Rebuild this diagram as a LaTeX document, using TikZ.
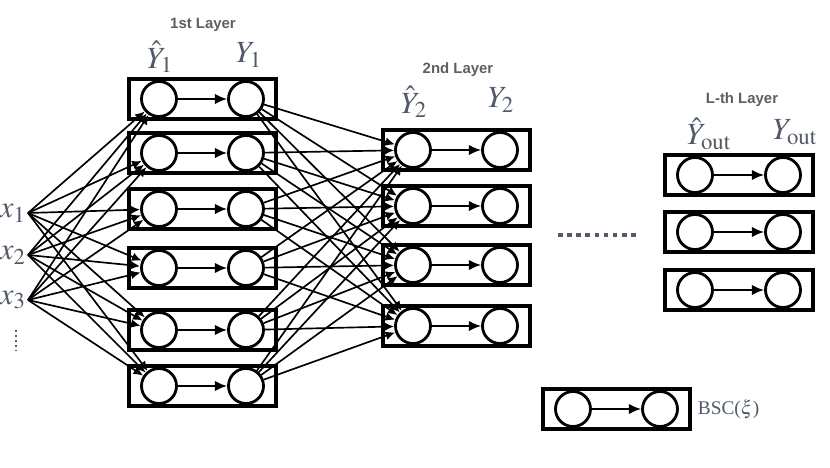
\documentclass[tikz,border=0pt]{standalone}
\usepackage{mathptmx}
\usepackage{fontspec}
\setmainfont{Liberation Serif}
\newfontfamily\titlefont{Liberation Sans}
\usetikzlibrary{arrows.meta,fit}
\definecolor{labgray}{RGB}{80,90,105}
\definecolor{titlegray}{RGB}{95,95,95}
\tikzset{
  unit/.style={circle, draw, line width=1.6pt, minimum size=0.7cm, inner sep=0pt},
  chan/.style={draw, line width=2pt, inner xsep=0.22cm, inner ysep=0.02cm},
  wire/.style={-{Latex[length=5.5pt,width=5pt]}, line width=0.95pt},
  inner/.style={-{Latex[length=7pt,width=6pt]}, line width=1.2pt},
  varlab/.style={text=labgray, font=\fontsize{17.5}{20}\selectfont, inner sep=1pt},
  laytitle/.style={text=titlegray, font=\titlefont\bfseries\fontsize{8.5}{10}\selectfont}
}
\begin{document}
\begin{tikzpicture}
\useasboundingbox (0,0) rectangle (16.6,9.34);
% inputs
\node[varlab, anchor=east] (x1) at (0.56,5.08) {$x_1$};
\node[varlab, anchor=east] (x2) at (0.56,4.24) {$x_2$};
\node[varlab, anchor=east] (x3) at (0.56,3.34) {$x_3$};
\draw[labgray, line width=1.1pt, dash pattern=on 1pt off 1.8pt] (0.32,2.74) -- (0.32,2.28);
% 1st layer
\node[laytitle] (t1) at (4.06,8.84) {1st Layer};
\node[varlab] (la1) at (3.2,8.2) {$\hat{Y}_1$};
\node[varlab] (lb1) at (4.98,8.24) {$Y_1$};
\foreach \i/\y in {1/7.36,2/6.28,3/5.16,4/3.98,5/2.74,6/1.62} {
  \node[unit] (ha\i) at (3.18,\y) {};
  \node[unit] (ya\i) at (4.92,\y) {};
  \draw[inner] (ha\i) -- (ya\i);
  \node[chan, fit=(ha\i)(ya\i)] (ca\i) {};
}
\foreach \i in {1,2,3}
  \foreach \j in {1,...,6}
    \draw[wire] (x\i.east) -- (ha\j);
% 2nd layer
\node[laytitle] (t2) at (9.16,7.94) {2nd Layer};
\node[varlab] (la2) at (8.28,7.3) {$\hat{Y}_2$};
\node[varlab] (lb2) at (10.02,7.34) {$Y_2$};
\foreach \i/\y in {1/6.34,2/5.22,3/4.04,4/2.82} {
  \node[unit] (hb\i) at (8.26,\y) {};
  \node[unit] (yb\i) at (10.0,\y) {};
  \draw[inner] (hb\i) -- (yb\i);
  \node[chan, fit=(hb\i)(yb\i)] (cb\i) {};
}
\foreach \i in {1,...,6}
  \foreach \j in {1,...,4}
    \draw[wire] (ya\i) -- (hb\j);
\draw[labgray, line width=2.4pt, dash pattern=on 2.6pt off 2.6pt] (11.16,4.64) -- (12.8,4.64);
% L-th layer
\node[laytitle] (tl) at (14.84,7.34) {L-th Layer};
\node[varlab] (lal) at (14.18,6.66) {$\hat{Y}_{\mathrm{out}}$};
\node[varlab] (lbl) at (15.9,6.7) {$Y_{\mathrm{out}}$};
\foreach \i/\y in {1/5.84,2/4.70,3/3.54} {
  \node[unit] (hl\i) at (13.9,\y) {};
  \node[unit] (yl\i) at (15.66,\y) {};
  \draw[inner] (hl\i) -- (yl\i);
  \node[chan, fit=(hl\i)(yl\i)] (cl\i) {};
}
% legend
\node[unit] (hk) at (11.46,1.16) {};
\node[unit] (yk) at (13.2,1.16) {};
\draw[inner] (hk) -- (yk);
\node[chan, fit=(hk)(yk)] (ck) {};
\node[text=labgray, font=\fontsize{11}{13}\selectfont, anchor=west] (bsc) at (ck.east) {BSC($\xi$)};
\end{tikzpicture}
\end{document}
